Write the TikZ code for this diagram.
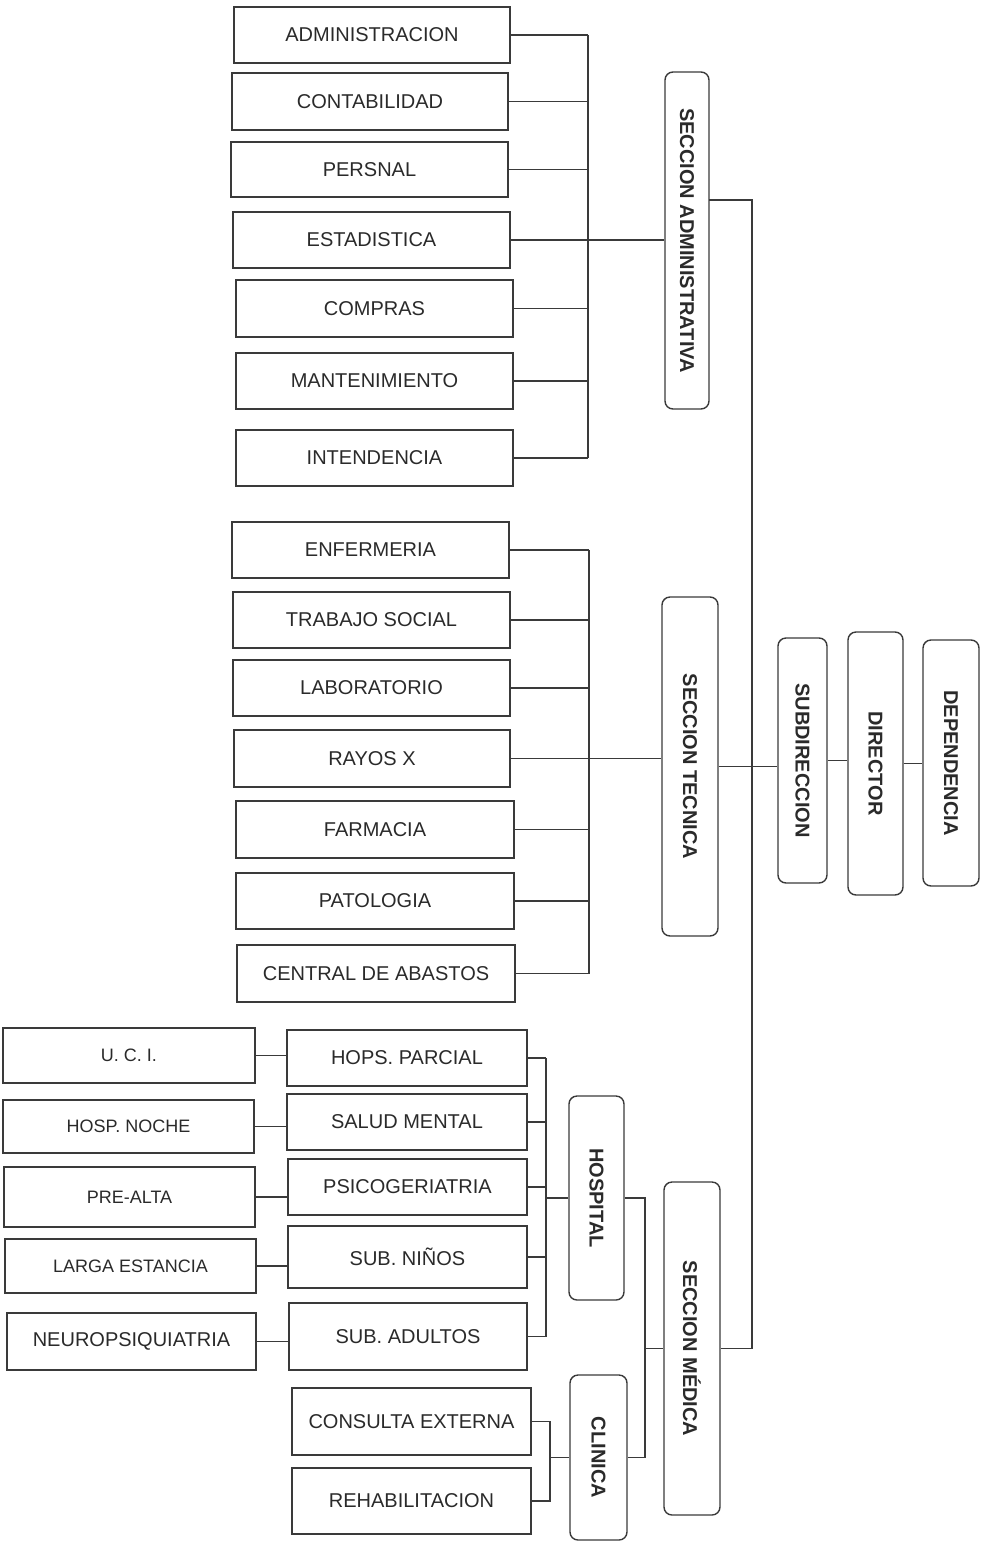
\documentclass[tikz,border=0pt]{standalone}
\usepackage{fontspec}
\setmainfont{Liberation Sans}
\definecolor{ink}{HTML}{2A2A2A}
\definecolor{wire}{HTML}{3A3A3A}
\tikzset{
  x=1pt,y=-1pt,
  lbox/.style={draw=wire,line width=1.4pt,rectangle,inner sep=2pt,text=ink,font=\fontsize{20}{24}\selectfont},
  sbox/.style={lbox,font=\fontsize{18}{22}\selectfont},
  vbox/.style={draw=wire,line width=1.4pt,rectangle,rounded corners=8pt,inner sep=2pt,text=ink,font=\bfseries\fontsize{20}{24}\selectfont},
  wire/.style={draw=wire,line width=1.4pt}
}
\newcommand{\vt}[1]{\rotatebox{-90}{#1}}
\begin{document}
\begin{tikzpicture}
\useasboundingbox (0,0) rectangle (985,1545);
% administrative units
\node[lbox,minimum width=276,minimum height=56] (adm) at (372,35) {ADMINISTRACION};
\node[lbox,minimum width=276,minimum height=57] (con) at (370,101.5) {CONTABILIDAD};
\node[lbox,minimum width=277,minimum height=55] (per) at (369.5,169.5) {PERSNAL};
\node[lbox,minimum width=277,minimum height=56] (est) at (371.5,240) {ESTADISTICA};
\node[lbox,minimum width=277,minimum height=57] (com) at (374.5,308.5) {COMPRAS};
\node[lbox,minimum width=277,minimum height=56] (man) at (374.5,381) {MANTENIMIENTO};
\node[lbox,minimum width=277,minimum height=56] (int) at (374.5,458) {INTENDENCIA};
% technical units
\node[lbox,minimum width=277,minimum height=56] (enf) at (370.5,550) {ENFERMERIA};
\node[lbox,minimum width=277,minimum height=56] (tra) at (371.5,620) {TRABAJO SOCIAL};
\node[lbox,minimum width=277,minimum height=56] (lab) at (371.5,688) {LABORATORIO};
\node[lbox,minimum width=276,minimum height=57] (ray) at (372,758.5) {RAYOS X};
\node[lbox,minimum width=278,minimum height=57] (far) at (375,829.5) {FARMACIA};
\node[lbox,minimum width=278,minimum height=56] (pat) at (375,901) {PATOLOGIA};
\node[lbox,minimum width=278,minimum height=57] (cen) at (376,973.5) {CENTRAL DE ABASTOS};
% vertical boxes
\node[vbox,minimum width=44,minimum height=337] (sa) at (687,240.5) {\vt{SECCION ADMINISTRATIVA}};
\node[vbox,minimum width=56,minimum height=339] (st) at (690,766.5) {\vt{SECCION TECNICA}};
\node[vbox,minimum width=49,minimum height=245] (sub) at (802.5,760.5) {\vt{SUBDIRECCION}};
\node[vbox,minimum width=55,minimum height=263] (dir) at (875.5,763.5) {\vt{DIRECTOR}};
\node[vbox,minimum width=56,minimum height=246] (dep) at (951,763) {\vt{DEPENDENCIA}};
\node[vbox,minimum width=55,minimum height=204] (hosp) at (596.5,1198) {\vt{HOSPITAL}};
\node[vbox,minimum width=56,minimum height=333] (sm) at (692,1348.5) {\vt{SECCION MÉDICA}};
\node[vbox,minimum width=57,minimum height=165] (cli) at (598.5,1457.5) {\vt{CLINICA}};
% medical: left column
\node[sbox,minimum width=252,minimum height=55] (uci) at (129,1055.5) {U. C. I.};
\node[sbox,minimum width=251,minimum height=53] (hn) at (128.5,1126.5) {HOSP. NOCHE};
\node[sbox,minimum width=251,minimum height=60] (pa) at (129.5,1197) {PRE-ALTA};
\node[sbox,minimum width=251,minimum height=54] (le) at (130.5,1266) {LARGA ESTANCIA};
\node[lbox,minimum width=249,minimum height=57] (neu) at (131.5,1341.5) {NEUROPSIQUIATRIA};
% medical: middle column
\node[lbox,minimum width=240,minimum height=56] (hp) at (407,1058) {HOPS. PARCIAL};
\node[lbox,minimum width=240,minimum height=56] (sme) at (407,1122) {SALUD MENTAL};
\node[lbox,minimum width=239,minimum height=56] (psi) at (407.5,1187) {PSICOGERIATRIA};
\node[lbox,minimum width=239,minimum height=62] (sn) at (407.5,1257) {SUB. NIÑOS};
\node[lbox,minimum width=238,minimum height=67] (sad) at (408,1336.5) {SUB. ADULTOS};
\node[lbox,minimum width=239,minimum height=67] (ce) at (411.5,1421.5) {CONSULTA EXTERNA};
\node[lbox,minimum width=239,minimum height=66] (reh) at (411.5,1501) {REHABILITACION};
% bus coordinates
\coordinate (abus) at (588,0);
\coordinate (tbus) at (589,0);
\coordinate (mainx) at (752,0);
\coordinate (saout) at (709,200);
\coordinate (hbus) at (546,0);
\coordinate (mbus) at (645,0);
\coordinate (cbus) at (550,0);
% administrative connectors
\foreach \n in {adm,con,per,com,man,int} \draw[wire] (\n.east) -- (\n.east -| abus);
\draw[wire] (adm.east -| abus) -- (int.east -| abus);
\draw[wire] (est.east) -- (est.east -| sa.west);
% technical connectors
\foreach \n in {enf,tra,lab,far,pat,cen} \draw[wire] (\n.east) -- (\n.east -| tbus);
\draw[wire] (enf.east -| tbus) -- (cen.east -| tbus);
\draw[wire] (ray.east) -- (ray.east -| st.west);
% top chain
\draw[wire] (st.east) -- (st.east -| sub.west);
\draw[wire] (sub.east) -- (sub.east -| dir.west);
\draw[wire] (dir.east) -- (dir.east -| dep.west);
% main vertical
\draw[wire] (saout) -- (saout -| mainx) -- (sm.east -| mainx) -- (sm.east);
% medical: left to middle
\draw[wire] (uci.east) -- (uci.east -| hp.west);
\draw[wire] (hn.east) -- (hn.east -| sme.west);
\draw[wire] (pa.east) -- (pa.east -| psi.west);
\draw[wire] (le.east) -- (le.east -| sn.west);
\draw[wire] (neu.east) -- (neu.east -| sad.west);
% hospital bus
\foreach \n in {hp,sme,psi,sn,sad} \draw[wire] (\n.east) -- (\n.east -| hbus);
\draw[wire] (hp.east -| hbus) -- (sad.east -| hbus);
\draw[wire] (hosp.west -| hbus) -- (hosp.west);
% hospital/clinic to seccion medica
\draw[wire] (hosp.east) -- (hosp.east -| mbus) -- (cli.east -| mbus) -- (cli.east);
\draw[wire] (sm.west -| mbus) -- (sm.west);
% clinic bus
\draw[wire] (ce.east) -- (ce.east -| cbus) -- (reh.east -| cbus) -- (reh.east);
\draw[wire] (cli.west -| cbus) -- (cli.west);
\end{tikzpicture}
\end{document}
